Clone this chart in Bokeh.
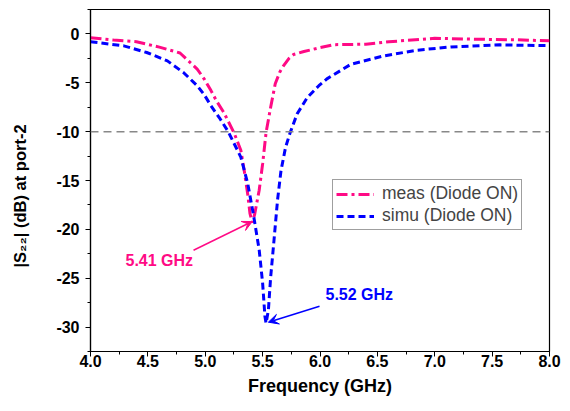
import numpy as np
from bokeh.plotting import figure
from bokeh.models import (Range1d, SingleIntervalTicker, PrintfTickFormatter, Span,
                          Label, Arrow, VeeHead, Legend, LegendItem, Title)
from bokeh.embed import file_html
from bokeh.resources import INLINE

# ---- data ----
freq_meas = [4.00, 4.20, 4.40, 4.60, 4.78, 4.93, 4.99, 5.05, 5.10, 5.16, 5.25, 5.31, 5.34,
             5.37, 5.39, 5.41, 5.43, 5.47, 5.50, 5.53, 5.57, 5.61, 5.65, 5.68, 5.73, 5.77,
             5.86, 6.00, 6.12, 6.40, 6.60, 7.00, 7.40, 7.70, 8.00]
s22_meas = [-0.40, -0.62, -0.80, -1.35, -1.95, -3.6, -4.6, -5.8, -6.9, -8.0, -10.1, -11.9, -14.0,
            -16.4, -18.4, -19.3, -18.5, -16.0, -13.3, -10.1, -7.5, -5.1, -3.9, -3.3, -2.5, -2.1,
            -1.8, -1.4, -1.1, -1.05, -0.8, -0.45, -0.55, -0.6, -0.7]

freq_simu = [4.00, 4.29, 4.49, 4.67, 4.81, 4.93, 4.99, 5.05, 5.13, 5.20, 5.31, 5.37, 5.42,
             5.47, 5.50, 5.52, 5.53, 5.55, 5.57, 5.60, 5.63, 5.66, 5.70, 5.74, 5.80, 5.89,
             5.99, 6.06, 6.27, 6.56, 6.85, 7.14, 7.57, 8.00]
s22_simu = [-0.8, -1.22, -1.9, -2.76, -3.95, -5.3, -6.2, -7.35, -8.7, -10.0, -12.6, -15.3, -18.5,
            -22.1, -25.5, -28.9, -29.6, -28.3, -24.9, -21.0, -17.0, -14.0, -11.6, -10.1, -8.2, -6.5,
            -5.3, -4.6, -3.1, -2.24, -1.66, -1.33, -1.12, -1.2]

series_names = ["meas (Diode ON)", "simu (Diode ON)"]
resonance_labels = ["5.41 GHz", "5.52 GHz"]
threshold_db = -10

PINK = "#FF0A85"
BLUE = "#0000FF"
FONT = "Liberation Sans"

p = figure(width=570, height=411, x_range=Range1d(4, 8), y_range=Range1d(-32.5, 2.5),
           output_backend="svg", toolbar_location=None,
           min_border_left=90, min_border_right=21, min_border_top=9, min_border_bottom=60)
p.xgrid.visible = False
p.ygrid.visible = False
p.outline_line_color = "black"
p.outline_line_width = 1.2
p.background_fill_color = "white"
p.border_fill_color = "white"

# axes
p.xaxis.ticker = SingleIntervalTicker(interval=0.5, num_minor_ticks=2)
p.yaxis.ticker = SingleIntervalTicker(interval=5, num_minor_ticks=2)
p.xaxis.formatter = PrintfTickFormatter(format="%.1f")
p.yaxis.formatter = PrintfTickFormatter(format="%d")
for ax in (p.xaxis, p.yaxis):
    ax.axis_line_color = "black"
    ax.axis_line_width = 1.2
    ax.major_tick_line_color = "black"
    ax.minor_tick_line_color = "black"
    ax.major_tick_in = 0
    ax.minor_tick_in = 0
    ax.major_tick_out = 5
    ax.minor_tick_out = 3
    ax.major_label_text_font = FONT
    ax.major_label_text_font_style = "bold"
    ax.major_label_text_font_size = "16px"
    ax.major_label_text_color = "black"
p.xaxis.major_label_standoff = -2
p.yaxis.major_label_standoff = 6
p.xaxis.axis_label = "Frequency (GHz)"
p.xaxis.axis_label_text_font = FONT
p.xaxis.axis_label_text_font_style = "bold"
p.xaxis.axis_label_text_font_size = "18px"
p.xaxis.axis_label_text_color = "black"
p.xaxis.axis_label_standoff = 6
# blank y-axis label only reserves room, pushing the side title outward
p.yaxis.axis_label = "\u00a0"
p.yaxis.axis_label_text_font_size = "8px"
p.yaxis.axis_label_standoff = 8

# y-axis label as a side title (lets it sit lower than centre, as in the reference)
p.add_layout(Title(text="|S\u2082\u2082| (dB) at port-2", align="left", offset=84,
                   text_font=FONT, text_font_style="bold", text_font_size="16.5px",
                   text_color="black"), "left")

# -10 dB reference line
p.add_layout(Span(location=threshold_db, dimension="width", line_color="#888888",
                  line_dash="8 5", line_width=1.5))

r_meas = p.line(freq_meas, s22_meas, line_color=PINK, line_width=3, line_dash="11 4 3 4")
r_simu = p.line(freq_simu, s22_simu, line_color=BLUE, line_width=3, line_dash="7 4")

legend = Legend(items=[LegendItem(label=series_names[0], renderers=[r_meas]),
                       LegendItem(label=series_names[1], renderers=[r_simu])],
                location=(242, 121), glyph_width=38, glyph_height=18, label_height=18,
                label_standoff=8, padding=3, spacing=1,
                label_text_font=FONT, label_text_font_size="17.5px",
                border_line_color="#404040", border_line_width=1,
                background_fill_color="white", background_fill_alpha=1)
p.add_layout(legend)

# resonance annotations
im = int(np.argmin(s22_meas))
isim = int(np.argmin(s22_simu))
p.add_layout(Arrow(end=VeeHead(size=10, line_color=PINK, fill_color=PINK, line_width=1),
                   x_start=4.898, y_start=-22.14, x_end=freq_meas[im], y_end=s22_meas[im] + 0.1,
                   line_color=PINK, line_width=1.5))
p.add_layout(Label(x=4.305, y=-23.2, text=resonance_labels[0], text_align="left",
                   text_baseline="middle", text_font=FONT, text_font_style="bold",
                   text_font_size="16px", text_color=PINK))
p.add_layout(Arrow(end=VeeHead(size=10, line_color=BLUE, fill_color=BLUE, line_width=1),
                   x_start=5.996, y_start=-27.86, x_end=freq_simu[isim] + 0.02, y_end=s22_simu[isim] + 0.1,
                   line_color=BLUE, line_width=1.5))
p.add_layout(Label(x=6.048, y=-26.7, text=resonance_labels[1], text_align="left",
                   text_baseline="middle", text_font=FONT, text_font_style="bold",
                   text_font_size="16px", text_color=BLUE))

open("out.html", "w").write(file_html(p, INLINE))
